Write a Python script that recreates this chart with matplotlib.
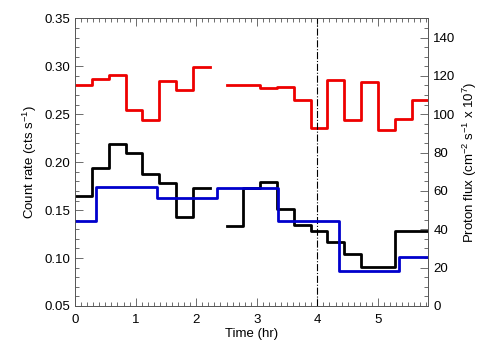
import numpy as np
import matplotlib
matplotlib.use("Agg")
import matplotlib.pyplot as plt
from matplotlib.ticker import MultipleLocator

plt.rcParams['font.family'] = ['Liberation Sans', 'DejaVu Sans']
plt.rcParams['mathtext.fontset'] = 'custom'
plt.rcParams['mathtext.rm'] = 'Liberation Sans'

# Time bin edges (hr), 1000 s bins
bin_edges = [0.0, 0.278, 0.556, 0.833, 1.111, 1.389, 1.667, 1.944, 2.222, 2.5,
             2.778, 3.056, 3.333, 3.611, 3.889, 4.167, 4.444, 4.722, 5.0,
             5.278, 5.556, 5.833]

# Count rate series (cts/s)
red_rate = [0.281, 0.287, 0.291, 0.254, 0.244, 0.285, 0.275, 0.2995, np.nan,
            0.281, 0.280, 0.2776, 0.2784, 0.265, 0.2355, 0.2855, 0.2445,
            0.2836, 0.2332, 0.2447, 0.2647]
black_rate = [0.165, 0.194, 0.2186, 0.2092, 0.188, 0.1786, 0.1431, 0.1727,
              np.nan, 0.1334, 0.1727, 0.179, 0.151, 0.1345, 0.1285, 0.117,
              0.1042, 0.0907, 0.0907, 0.128, 0.128]

# Proton flux (cm^-2 s^-1 x 10^7), hourly bins
flux_edges = [0.0, 0.35, 1.35, 2.35, 3.35, 4.35, 5.35, 5.833]
proton_flux = [44.3, 62.0, 56.1, 61.3, 44.5, 18.2, 25.6]

marker_time = 4.0

fig = plt.figure(figsize=(5.04, 3.6), dpi=100)
ax = fig.add_axes([0.149, 0.15, 0.701, 0.799])
ax2 = ax.twinx()

def stepxy(edges, vals):
    return list(edges), list(vals) + [vals[-1]]

x, y = stepxy(bin_edges, red_rate)
ax.step(x, y, where='post', color='#ee0000', lw=2.0)
x, y = stepxy(bin_edges, black_rate)
ax.step(x, y, where='post', color='black', lw=2.0)
x, y = stepxy(flux_edges, proton_flux)
ax2.step(x, y, where='post', color='#0000cc', lw=2.0)

ax.axvline(marker_time, color='black', lw=0.8, linestyle='-.')

ax.set_xlim(0, 5.833)
ax.set_ylim(0.05, 0.35)
ax2.set_ylim(0, 150)

ax.xaxis.set_major_locator(MultipleLocator(1))
ax.xaxis.set_minor_locator(MultipleLocator(0.1))
ax.yaxis.set_major_locator(MultipleLocator(0.05))
ax.yaxis.set_minor_locator(MultipleLocator(0.01))
ax2.yaxis.set_major_locator(MultipleLocator(20))
ax2.yaxis.set_minor_locator(MultipleLocator(5))
ax.yaxis.set_major_formatter(matplotlib.ticker.FormatStrFormatter('%.2f'))

ax.tick_params(axis='both', which='both', direction='in', top=True, labelsize=9.5, width=0.6, color='#555555')
ax.tick_params(which='major', length=6)
ax.tick_params(which='minor', length=3)
ax2.tick_params(axis='y', which='both', direction='in', labelsize=9.5, width=0.6, color='#555555')
ax2.tick_params(which='major', length=6)
ax2.tick_params(which='minor', length=3)
ax.tick_params(axis='x', pad=6)

for a in (ax, ax2):
    for s in a.spines.values():
        s.set_linewidth(0.6)
        s.set_color('#555555')

ax.set_xlabel('Time (hr)', fontsize=9.5, labelpad=1)
ax.set_ylabel('Count rate (cts s$^{-1}$)', fontsize=9.5, labelpad=4)
ax2.set_ylabel('Proton flux (cm$^{-2}$ s$^{-1}$ x 10$^{7}$)', fontsize=9.5, labelpad=4)

fig.savefig('out.png', dpi=100)
